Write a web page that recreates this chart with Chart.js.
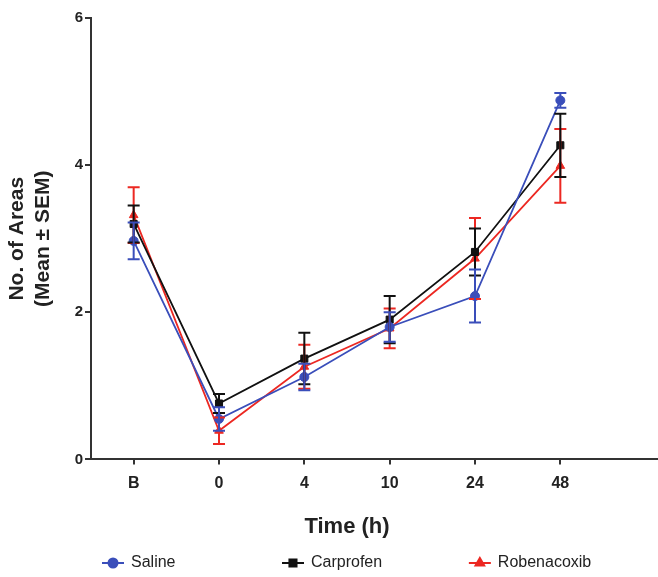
<!DOCTYPE html>
<html><head><meta charset="utf-8">
<script src="https://cdn.jsdelivr.net/npm/chart.js@4"></script>
<style>html,body{margin:0;padding:0;background:#fff}#wrap{width:658px;height:577px}</style>
</head><body><div id="wrap"><canvas id="c" width="658" height="577"></canvas></div>
<script>
const timeLabels = ['B', '0', '4', '10', '24', '48'];
const salineMean = [2.97, 0.55, 1.12, 1.80, 2.22, 4.88];
const salineSem = [0.25, 0.16, 0.18, 0.20, 0.36, 0.10];
const carprofenMean = [3.20, 0.76, 1.37, 1.90, 2.82, 4.27];
const carprofenSem = [0.25, 0.13, 0.35, 0.32, 0.32, 0.43];
const robenacoxibMean = [3.32, 0.39, 1.26, 1.78, 2.73, 3.99];
const robenacoxibSem = [0.38, 0.18, 0.30, 0.27, 0.55, 0.50];
const yTickValues = [0, 2, 4, 6];

const BLUE = 'rgb(58,78,186)';
const BLACK = '#111111';
const RED = 'rgb(236,40,34)';
const FONT = "'Liberation Sans', Arial, Helvetica, sans-serif";

const errorBars = {
  id: 'errorBars',
  afterDatasetsDraw(chart) {
    const ctx = chart.ctx, ys = chart.scales.y;
    for (let d = chart.data.datasets.length - 1; d >= 0; d--) {
      const ds = chart.data.datasets[d];
      const meta = chart.getDatasetMeta(d);
      ctx.save();
      ctx.strokeStyle = ds.borderColor;
      ctx.lineWidth = 2;
      meta.data.forEach((el, i) => {
        const v = ds.data[i], e = ds.errors[i];
        const x = el.x;
        const yHi = ys.getPixelForValue(v + e);
        const yLo = ys.getPixelForValue(v - e);
        ctx.beginPath();
        ctx.moveTo(x, yHi); ctx.lineTo(x, yLo);
        ctx.moveTo(x - 6, yHi); ctx.lineTo(x + 6, yHi);
        ctx.moveTo(x - 6, yLo); ctx.lineTo(x + 6, yLo);
        ctx.stroke();
      });
      ctx.restore();
    }
  }
};

const axisExtend = {
  id: 'axisExtend',
  afterDraw(chart) {
    const ctx = chart.ctx, xs = chart.scales.x;
    const y = Math.round(xs.top);
    ctx.save();
    ctx.strokeStyle = '#333';
    ctx.lineWidth = 2;
    ctx.beginPath();
    ctx.moveTo(chart.chartArea.right - 1, y);
    ctx.lineTo(chart.width, y);
    ctx.stroke();
    ctx.restore();
  }
};

const customLegend = {
  id: 'customLegend',
  afterDraw(chart, args, opts) {
    const ctx = chart.ctx, area = chart.chartArea;
    const y = chart.scales.x.bottom + 23;
    ctx.save();
    chart.data.datasets.forEach((ds, i) => {
      const x0 = area.left + opts.starts[i] * (area.right - area.left);
      const cx = x0 + 11;
      ctx.strokeStyle = ds.borderColor;
      ctx.fillStyle = ds.borderColor;
      ctx.lineWidth = 2;
      ctx.beginPath();
      ctx.moveTo(cx - 11, y); ctx.lineTo(cx + 11, y);
      ctx.stroke();
      Chart.helpers.drawPoint(ctx, {pointStyle: ds.pointStyle, radius: ds.pointRadius, rotation: 0, borderWidth: 1}, cx, y);
      ctx.fillStyle = '#222';
      ctx.font = '16px ' + FONT;
      ctx.textBaseline = 'middle';
      ctx.textAlign = 'left';
      ctx.fillText(ds.label, cx + 18, y);
    });
    ctx.restore();
  }
};

function series(label, mean, sem, color, style, radius) {
  return {
    label, data: mean, errors: sem,
    borderColor: color, backgroundColor: color,
    borderWidth: 1.8, pointStyle: style, pointRadius: radius,
    pointBorderWidth: 1, pointBackgroundColor: color, pointBorderColor: color,
    tension: 0, fill: false
  };
}

new Chart(document.getElementById('c'), {
  type: 'line',
  data: {
    labels: timeLabels,
    datasets: [
      series('Saline', salineMean, salineSem, BLUE, 'circle', 4.5),
      series('Carprofen', carprofenMean, carprofenSem, BLACK, 'rect', 5),
      series('Robenacoxib', robenacoxibMean, robenacoxibSem, RED, 'triangle', 5)
    ]
  },
  options: {
    responsive: false,
    animation: false,
    devicePixelRatio: 1,
    layout: {padding: {left: 5, right: 55, top: 18, bottom: 37}},
    plugins: {
      legend: {display: false},
      tooltip: {enabled: false},
      customLegend: {starts: [0.0215, 0.373, 0.738]}
    },
    scales: {
      x: {
        type: 'category', offset: true,
        grid: {drawOnChartArea: false, drawTicks: true, tickLength: 5, color: '#333', lineWidth: 2},
        border: {color: '#333', width: 2},
        ticks: {color: '#222', padding: 10, font: {family: FONT, weight: 'bold', size: 16}},
        title: {display: true, text: 'Time (h)', color: '#222', padding: {top: 10, bottom: 0},
                font: {family: FONT, weight: 'bold', size: 22}}
      },
      y: {
        min: 0, max: 6,
        afterBuildTicks: s => { s.ticks = yTickValues.map(v => ({value: v})); },
        afterFit: s => { s.width = 86; },
        grid: {drawOnChartArea: false, drawTicks: true, tickLength: 6, color: '#333', lineWidth: 2},
        border: {color: '#333', width: 2},
        ticks: {color: '#222', padding: 2, font: {family: FONT, weight: 'bold', size: 15}},
        title: {display: true, text: ['No. of Areas', '(Mean \u00B1 SEM)'], color: '#222', padding: 0,
                font: {family: FONT, weight: 'bold', size: 21, lineHeight: 1.2}}
      }
    }
  },
  plugins: [errorBars, axisExtend, customLegend]
});
</script>
</body></html>
